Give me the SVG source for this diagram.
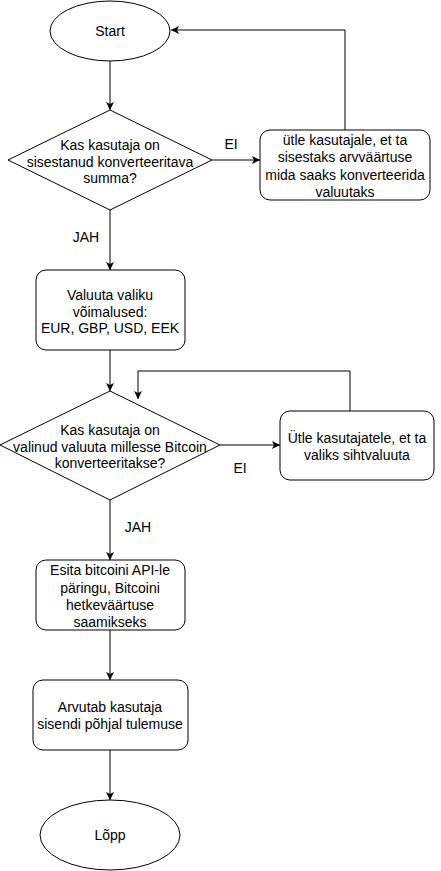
<svg xmlns="http://www.w3.org/2000/svg" width="441" height="871" viewBox="0 0 441 871">
<style>
.s{fill:#fff;stroke:#000;stroke-width:1}
.t{font-family:"Liberation Sans",Arial,sans-serif;font-size:14px;fill:#000;text-anchor:middle}
.c{fill:none;stroke:#000;stroke-width:1}
</style>
<defs>
<marker id="a" markerWidth="10" markerHeight="10" refX="8" refY="4" orient="auto" markerUnits="userSpaceOnUse">
<path d="M0,0 L8,4 L0,8 L2,4 Z" fill="#000"/>
</marker>
</defs>
<rect width="441" height="871" fill="#fff"/>
<g id="connectors">
<path class="c" d="M110,61 V110" marker-end="url(#a)"/>
<path class="c" d="M212,160 H260" marker-end="url(#a)"/>
<path class="c" d="M345,130 V30 H171" marker-end="url(#a)"/>
<path class="c" d="M110,210 V270" marker-end="url(#a)"/>
<path class="c" d="M110,350 V391" marker-end="url(#a)"/>
<path class="c" d="M220,445 H280" marker-end="url(#a)"/>
<path class="c" d="M350,411 V371 H138 V399" marker-end="url(#a)"/>
<path class="c" d="M110,500 V560" marker-end="url(#a)"/>
<path class="c" d="M110,630 V680" marker-end="url(#a)"/>
<path class="c" d="M110,750 V800" marker-end="url(#a)"/>
<text class="t" x="231" y="149">EI</text>
<text class="t" x="86" y="242">JAH</text>
<text class="t" x="240" y="473">EI</text>
<text class="t" x="138" y="532">JAH</text>
</g>
<g id="start">
<ellipse class="s" cx="110" cy="31" rx="60" ry="30"/>
<text class="t" x="110" y="36">Start</text>
</g>
<g id="decision1">
<polygon class="s" points="110,110 212,160 110,210 8,160"/>
<text class="t" x="110" y="150">Kas kasutaja on</text>
<text class="t" x="110" y="167">sisestanud konverteeritava</text>
<text class="t" x="110" y="183">summa?</text>
</g>
<g id="tell1">
<rect class="s" x="260" y="130" width="170" height="70" rx="10"/>
<text class="t" x="345" y="145">ütle kasutajale, et ta</text>
<text class="t" x="345" y="162">sisestaks arvväärtuse</text>
<text class="t" x="345" y="180">mida saaks konverteerida</text>
<text class="t" x="345" y="197">valuutaks</text>
</g>
<g id="options">
<rect class="s" x="36" y="270" width="149" height="80" rx="10"/>
<text class="t" x="110" y="300">Valuuta valiku</text>
<text class="t" x="110" y="317">võimalused:</text>
<text class="t" x="110" y="333">EUR, GBP, USD, EEK</text>
</g>
<g id="decision2">
<polygon class="s" points="110,391 220,445 110,500 0,445"/>
<text class="t" x="110" y="435">Kas kasutaja on</text>
<text class="t" x="110" y="452">valinud valuuta millesse Bitcoin</text>
<text class="t" x="110" y="468">konverteeritakse?</text>
</g>
<g id="tell2">
<rect class="s" x="280" y="411" width="154" height="69" rx="10"/>
<text class="t" x="357" y="443">Ütle kasutajatele, et ta</text>
<text class="t" x="357" y="460">valiks sihtvaluuta</text>
</g>
<g id="api">
<rect class="s" x="36" y="560" width="149" height="70" rx="10"/>
<text class="t" x="110" y="575">Esita bitcoini API-le</text>
<text class="t" x="110" y="593">päringu, Bitcoini</text>
<text class="t" x="110" y="610">hetkeväärtuse</text>
<text class="t" x="110" y="627">saamikseks</text>
</g>
<g id="calc">
<rect class="s" x="33" y="680" width="155" height="70" rx="10"/>
<text class="t" x="110" y="712">Arvutab kasutaja</text>
<text class="t" x="110" y="729">sisendi põhjal tulemuse</text>
</g>
<g id="end">
<ellipse class="s" cx="110" cy="835" rx="70" ry="35"/>
<text class="t" x="110" y="840">Lõpp</text>
</g>
</svg>
